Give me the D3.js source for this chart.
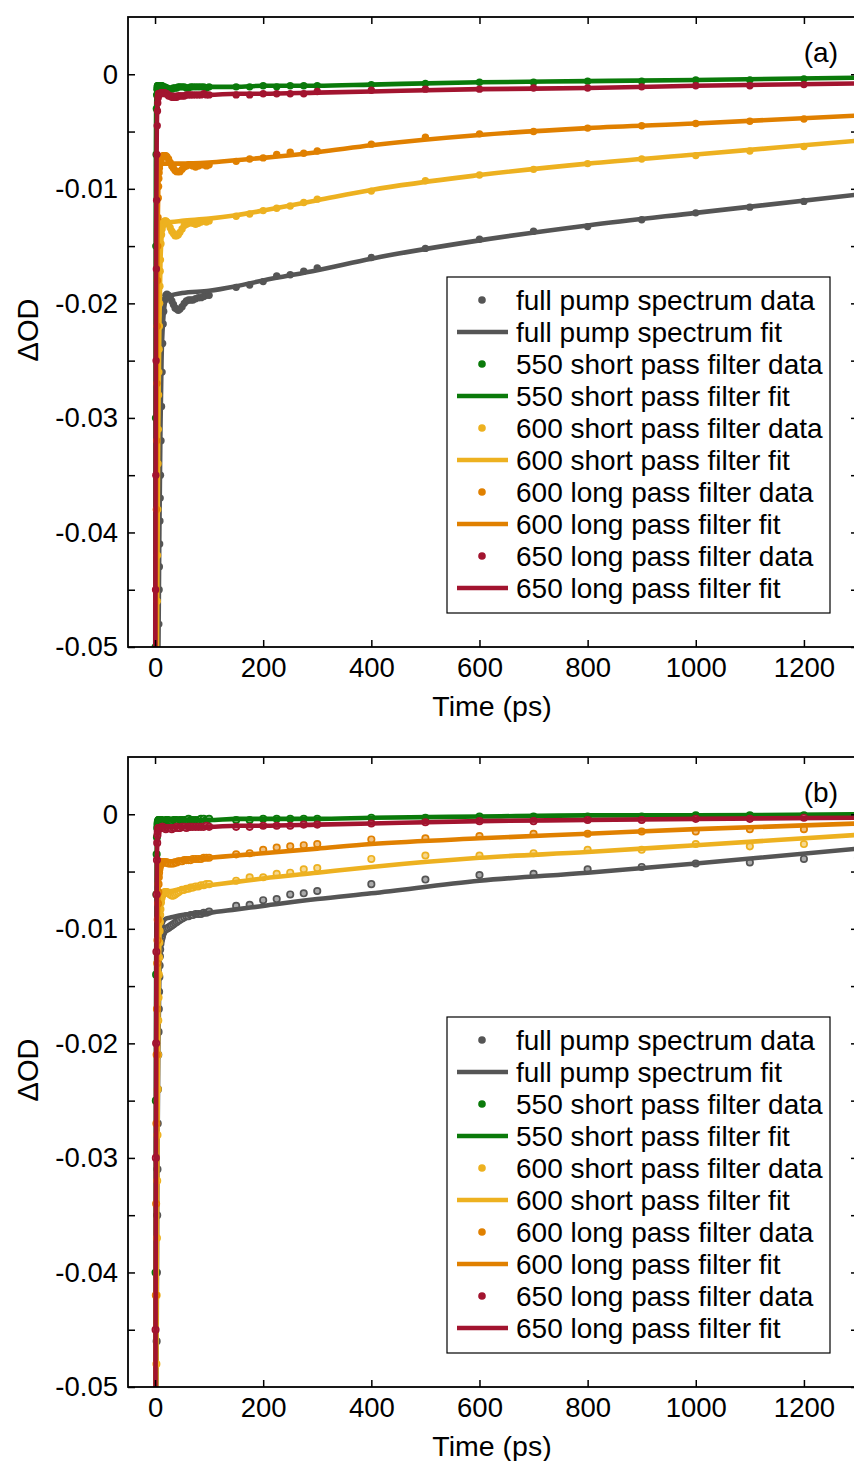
<!DOCTYPE html>
<html><head><meta charset="utf-8">
<script src="https://cdn.jsdelivr.net/npm/d3@7"></script>
<style>body{margin:0;background:#fff} text{font-family:"Liberation Sans",Arial,Helvetica,sans-serif}</style>
</head><body><svg id="chart" width="854" height="1461"></svg>
<script>
// ---------------- DATA ----------------
const times = [0,0.5,1,1.5,2,2.5,3,3.5,4,4.5,5,5.5,6,6.5,7,7.5,8,8.5,9,9.5,10, 11,12,13,14,15,16, 18,20,22, 25,28,31,34,37,40,43,46, 50,54,58,62,66,70, 75,80,85,90,95,100, 150,175,200,225,250,275,300, 400,500,600,700,800,900,1000,1100,1200,1300];
const tFit = [0,0.5,1,1.5,2,3,4,5,6,8,10,12,15,20,30,50,100,150,200,300,400,600,800,1000,1300];

const seriesNames = ["full pump spectrum","550 short pass filter","600 short pass filter","600 long pass filter","650 long pass filter"];
const seriesColors = ["#555555","#0a7a0a","#EDB120","#E08000","#A2142F"];
const xTicks = [0,200,400,600,800,1000,1200];
const yTicks = [0,-0.01,-0.02,-0.03,-0.04,-0.05];
const yMinorTicks = [-0.005,-0.015,-0.025,-0.035,-0.045];
const panelLabels = ["(a)","(b)"];

// panel (a) data
const aGray = [-0.120,-0.110,-0.100,-0.095,-0.090,-0.085,-0.080,-0.075,-0.070,-0.066,-0.062,-0.058,-0.054,-0.051,-0.048,-0.045,-0.043,-0.041,-0.039,-0.037,-0.035,
 -0.032,-0.029,-0.026,-0.0235,-0.0218,-0.0207, -0.0197,-0.0193,-0.0192,
 -0.0193,-0.0195,-0.0198,-0.0201,-0.0204,-0.0205,-0.0206,-0.0205,
 -0.0203,-0.0200,-0.0198,-0.0197,-0.0197,-0.0197, -0.0196,-0.0195,-0.0195,-0.0194,-0.0193,-0.0193,
 -0.0186,-0.0184,-0.0181,-0.0176,-0.0175,-0.0172,-0.0169,
 -0.0160,-0.0152,-0.0144,-0.0137,-0.0133,-0.0127,-0.0121,-0.0116,-0.0111,-0.0105];
const aGreen = [-0.080,-0.050,-0.030,-0.015,-0.007,-0.003,-0.0018,-0.0013,-0.0011,-0.0010,-0.0010,-0.0010,-0.0010,-0.0010,-0.0010,-0.0010,-0.0010,-0.0010,-0.0010,-0.0010,-0.0010,
 -0.0010,-0.0010,-0.0010,-0.0011,-0.0011,-0.0011, -0.0011,-0.0012,-0.0012,
 -0.0013,-0.0013,-0.0013,-0.0012,-0.0012,-0.0012,-0.0011,-0.0011,
 -0.0011,-0.0011,-0.0012,-0.0012,-0.0011,-0.0011, -0.0011,-0.0011,-0.0011,-0.0011,-0.0012,-0.0011,
 -0.0011,-0.0011,-0.0010,-0.0011,-0.0010,-0.0010,-0.0010,
 -0.0009,-0.0008,-0.0007,-0.0007,-0.0006,-0.0006,-0.0005,-0.0005,-0.0004,-0.0003];
const aYellow = [-0.090,-0.085,-0.080,-0.075,-0.068,-0.062,-0.056,-0.051,-0.046,-0.042,-0.038,-0.034,-0.031,-0.028,-0.026,-0.024,-0.022,-0.020,-0.0185,-0.0172,-0.0162,
 -0.0148,-0.0140,-0.0135,-0.0132,-0.0130,-0.0129, -0.0128,-0.0128,-0.0129,
 -0.0131,-0.0134,-0.0137,-0.0139,-0.0141,-0.0141,-0.0140,-0.0138,
 -0.0135,-0.0132,-0.0131,-0.0130,-0.0129,-0.0130, -0.0131,-0.0130,-0.0129,-0.0128,-0.0129,-0.0128,
 -0.0124,-0.0122,-0.0119,-0.0117,-0.0115,-0.0112,-0.0109,
 -0.0102,-0.0093,-0.0088,-0.0083,-0.0078,-0.0074,-0.0071,-0.0067,-0.0063,-0.0058];
const aOrange = [-0.080,-0.070,-0.060,-0.052,-0.045,-0.038,-0.032,-0.027,-0.022,-0.018,-0.015,-0.0125,-0.0108,-0.0098,-0.0091,-0.0086,-0.0082,-0.0079,-0.0077,-0.0076,-0.0075,
 -0.0074,-0.0073,-0.0072,-0.0072,-0.0071,-0.0071, -0.0071,-0.0071,-0.0072,
 -0.0074,-0.0077,-0.0080,-0.0082,-0.0084,-0.0085,-0.0085,-0.0085,
 -0.0083,-0.0081,-0.0080,-0.0079,-0.0079,-0.0080, -0.0081,-0.0080,-0.0079,-0.0079,-0.0080,-0.0079,
 -0.0076,-0.0074,-0.0073,-0.0070,-0.0068,-0.0069,-0.0067,
 -0.0061,-0.0055,-0.0052,-0.0050,-0.0047,-0.0045,-0.0043,-0.0041,-0.0039,-0.0036];
const aRed = [-0.080,-0.060,-0.045,-0.035,-0.025,-0.017,-0.011,-0.007,-0.0045,-0.0032,-0.0025,-0.0021,-0.0019,-0.0017,-0.0017,-0.0017,-0.0017,-0.0017,-0.0017,-0.0017,-0.0017,
 -0.0016,-0.0016,-0.0016,-0.0016,-0.0016,-0.0016, -0.0016,-0.0017,-0.0017,
 -0.0019,-0.0019,-0.0020,-0.0020,-0.0020,-0.0020,-0.0019,-0.0019,
 -0.0019,-0.0019,-0.0018,-0.0018,-0.0018,-0.0018, -0.0018,-0.0018,-0.0018,-0.0017,-0.0018,-0.0018,
 -0.0018,-0.0018,-0.0017,-0.0017,-0.0017,-0.0017,-0.0015,
 -0.0014,-0.0013,-0.0013,-0.0012,-0.0012,-0.0011,-0.0010,-0.0010,-0.0009,-0.0008];

// panel (a) fits
const aGrayFit = [-0.120,-0.110,-0.100,-0.095,-0.090,-0.080,-0.070,-0.061,-0.052,-0.040,-0.031,-0.025,-0.0215,-0.0197,-0.0193,-0.0191,-0.0189,-0.0185,-0.0180,-0.0171,-0.0161,-0.0145,-0.0132,-0.0121,-0.0105];
const aGreenFit = [-0.080,-0.045,-0.020,-0.008,-0.003,-0.0014,-0.0011,-0.0011,-0.0011,-0.0011,-0.0011,-0.0011,-0.0011,-0.0011,-0.0012,-0.0011,-0.0011,-0.0011,-0.0010,-0.0010,-0.0009,-0.0007,-0.0006,-0.0005,-0.0003];
const aYellowFit = [-0.090,-0.085,-0.080,-0.075,-0.068,-0.056,-0.046,-0.038,-0.031,-0.022,-0.0165,-0.0143,-0.0133,-0.0130,-0.0129,-0.0128,-0.0126,-0.0123,-0.0119,-0.0110,-0.0101,-0.0088,-0.0078,-0.0070,-0.0058];
const aOrangeFit = [-0.080,-0.070,-0.060,-0.051,-0.043,-0.029,-0.019,-0.013,-0.0100,-0.0083,-0.0079,-0.0078,-0.0078,-0.0078,-0.0078,-0.0078,-0.0077,-0.0075,-0.0073,-0.0068,-0.0062,-0.0053,-0.0047,-0.0043,-0.0036];
const aRedFit = [-0.070,-0.050,-0.035,-0.022,-0.014,-0.006,-0.003,-0.0022,-0.0019,-0.0018,-0.0018,-0.0018,-0.0018,-0.0018,-0.0018,-0.0018,-0.0018,-0.0017,-0.0017,-0.0016,-0.0015,-0.0013,-0.0012,-0.0010,-0.0008];

// panel (b) data
const bGray = [-0.120,-0.100,-0.085,-0.072,-0.062,-0.053,-0.046,-0.040,-0.035,-0.031,-0.027,-0.024,-0.021,-0.019,-0.017,-0.0155,-0.0142,-0.0132,-0.0124,-0.0118,-0.0113,
 -0.0110,-0.0108,-0.0106,-0.0104,-0.0103,-0.0102, -0.0101,-0.0100,-0.0100,
 -0.0099,-0.0098,-0.0097,-0.0096,-0.0095,-0.0094,-0.0093,-0.0092,
 -0.0091,-0.0090,-0.0089,-0.0089,-0.0088,-0.0088, -0.0087,-0.0087,-0.0087,-0.0086,-0.0086,-0.0085,
 -0.0080,-0.0079,-0.0075,-0.0074,-0.0070,-0.0069,-0.0067,
 -0.0061,-0.0057,-0.0053,-0.0052,-0.0048,-0.0046,-0.0043,-0.0042,-0.0039,-0.0038];
const bGreen = [-0.080,-0.060,-0.040,-0.025,-0.014,-0.007,-0.0035,-0.0020,-0.0012,-0.0009,-0.0007,-0.0006,-0.0006,-0.0005,-0.0005,-0.0005,-0.0005,-0.0005,-0.0005,-0.0005,-0.0005,
 -0.0005,-0.0005,-0.0006,-0.0006,-0.0006,-0.0006, -0.0006,-0.0005,-0.0005,
 -0.0005,-0.0006,-0.0006,-0.0005,-0.0005,-0.0005,-0.0006,-0.0005,
 -0.0005,-0.0005,-0.0005,-0.0004,-0.0005,-0.0005, -0.0005,-0.0005,-0.0004,-0.0004,-0.0005,-0.0004,
 -0.0005,-0.0005,-0.0004,-0.0004,-0.0004,-0.0004,-0.0004,
 -0.0003,-0.0003,-0.0002,-0.0002,-0.0002,-0.0002,-0.0001,-0.0001,-0.0001,0.0000];
const bYellow = [-0.090,-0.080,-0.070,-0.062,-0.055,-0.048,-0.042,-0.037,-0.032,-0.028,-0.024,-0.021,-0.018,-0.016,-0.014,-0.0125,-0.0112,-0.0102,-0.0094,-0.0088,-0.0083,
 -0.0077,-0.0073,-0.0071,-0.0070,-0.0069,-0.0069, -0.0068,-0.0068,-0.0068,
 -0.0069,-0.0070,-0.0071,-0.0071,-0.0070,-0.0069,-0.0068,-0.0067,
 -0.0066,-0.0066,-0.0065,-0.0065,-0.0064,-0.0064, -0.0063,-0.0063,-0.0062,-0.0062,-0.0061,-0.0061,
 -0.0058,-0.0055,-0.0055,-0.0052,-0.0051,-0.0048,-0.0047,
 -0.0039,-0.0036,-0.0036,-0.0034,-0.0031,-0.0031,-0.0026,-0.0028,-0.0026,-0.0024];
const bOrange = [-0.080,-0.065,-0.052,-0.042,-0.034,-0.027,-0.021,-0.017,-0.013,-0.011,-0.0092,-0.0078,-0.0068,-0.0061,-0.0055,-0.0051,-0.0048,-0.0046,-0.0045,-0.0044,-0.0043,
 -0.0042,-0.0042,-0.0042,-0.0042,-0.0042,-0.0042, -0.0042,-0.0042,-0.0042,
 -0.0043,-0.0043,-0.0043,-0.0043,-0.0042,-0.0042,-0.0041,-0.0041,
 -0.0041,-0.0040,-0.0040,-0.0040,-0.0040,-0.0039, -0.0039,-0.0039,-0.0039,-0.0038,-0.0038,-0.0038,
 -0.0035,-0.0034,-0.0031,-0.0029,-0.0028,-0.0027,-0.0026,
 -0.0022,-0.0021,-0.0019,-0.0017,-0.0017,-0.0015,-0.0015,-0.0013,-0.0013,-0.0011];
const bRed = [-0.080,-0.060,-0.045,-0.030,-0.020,-0.012,-0.007,-0.004,-0.0025,-0.0018,-0.0015,-0.0013,-0.0012,-0.0012,-0.0012,-0.0012,-0.0012,-0.0012,-0.0012,-0.0012,-0.0012,
 -0.0012,-0.0012,-0.0011,-0.0011,-0.0012,-0.0012, -0.0012,-0.0013,-0.0012,
 -0.0012,-0.0012,-0.0013,-0.0012,-0.0012,-0.0011,-0.0012,-0.0012,
 -0.0011,-0.0011,-0.0012,-0.0011,-0.0011,-0.0011, -0.0011,-0.0011,-0.0011,-0.0011,-0.0010,-0.0011,
 -0.0011,-0.0011,-0.0010,-0.0010,-0.0010,-0.0009,-0.0009,
 -0.0008,-0.0007,-0.0006,-0.0006,-0.0005,-0.0005,-0.0004,-0.0004,-0.0003,-0.0003];

// panel (b) fits
const bGrayFit = [-0.120,-0.100,-0.085,-0.072,-0.062,-0.046,-0.035,-0.027,-0.021,-0.0142,-0.0113,-0.0100,-0.0094,-0.0091,-0.0090,-0.0088,-0.0086,-0.0083,-0.0080,-0.0074,-0.0069,-0.0058,-0.0051,-0.0043,-0.0030];
const bGreenFit = [-0.080,-0.060,-0.040,-0.025,-0.014,-0.0035,-0.0012,-0.0007,-0.0006,-0.0005,-0.0005,-0.0005,-0.0005,-0.0005,-0.0005,-0.0005,-0.0005,-0.0004,-0.0004,-0.0004,-0.0003,-0.0002,-0.0001,-0.0001,0.0000];
const bYellowFit = [-0.090,-0.080,-0.070,-0.062,-0.055,-0.042,-0.032,-0.024,-0.018,-0.0112,-0.0085,-0.0075,-0.0070,-0.0068,-0.0067,-0.0065,-0.0062,-0.0059,-0.0056,-0.0051,-0.0046,-0.0038,-0.0033,-0.0027,-0.0018];
const bOrangeFit = [-0.080,-0.065,-0.052,-0.042,-0.034,-0.021,-0.013,-0.0092,-0.0068,-0.0048,-0.0043,-0.0042,-0.0042,-0.0041,-0.0041,-0.0040,-0.0038,-0.0036,-0.0034,-0.0030,-0.0026,-0.0021,-0.0017,-0.0013,-0.0008];
const bRedFit = [-0.080,-0.060,-0.045,-0.030,-0.020,-0.007,-0.0025,-0.0015,-0.0012,-0.0012,-0.0011,-0.0011,-0.0011,-0.0011,-0.0011,-0.0011,-0.0011,-0.0010,-0.0010,-0.0009,-0.0008,-0.0006,-0.0005,-0.0004,-0.0003];

// ---------------- DRAW ----------------
const panels = [
  {label: panelLabels[0], top: 17, ring: false,
   data: [aGray, aGreen, aYellow, aOrange, aRed], fit: [aGrayFit, aGreenFit, aYellowFit, aOrangeFit, aRedFit]},
  {label: panelLabels[1], top: 757, ring: true,
   data: [bGray, bGreen, bYellow, bOrange, bRed], fit: [bGrayFit, bGreenFit, bYellowFit, bOrangeFit, bRedFit]}
];

const FONT = '"Liberation Sans", Arial, Helvetica, sans-serif';
const svg = d3.select("#chart");
svg.append("rect").attr("width", 854).attr("height", 1461).attr("fill", "#fff");

const left = 128, right = 858, plotH = 630;
const x = d3.scaleLinear().domain([-50, 1300]).range([left, right]);
const fmt = v => Math.abs(v) < 1e-9 ? "0" : v.toFixed(2);
const allY = yTicks.concat(yMinorTicks);

panels.forEach((p, pi) => {
  const g = svg.append("g").attr("transform", `translate(0,${p.top})`);
  const y = d3.scaleLinear().domain([-0.05, 0.005]).range([plotH, 0]);
  const clipId = "clip" + pi;
  g.append("clipPath").attr("id", clipId).append("rect")
    .attr("x", left).attr("y", 0).attr("width", right - left).attr("height", plotH);
  const plot = g.append("g").attr("clip-path", `url(#${clipId})`);
  const line = d3.line().x(d => x(d[0])).y(d => y(d[1])).curve(d3.curveMonotoneX);

  seriesNames.forEach((name, si) => {
    const col = seriesColors[si];
    const pts = times.map((t, i) => [t, p.data[si][i]]);
    const dots = plot.append("g").selectAll("circle").data(pts).join("circle")
      .attr("cx", d => x(d[0])).attr("cy", d => y(d[1]));
    if (p.ring) {
      dots.attr("r", 3.2).attr("fill", d3.interpolateRgb(col, "#fff")(0.5))
        .attr("stroke", col).attr("stroke-width", 1.7);
    } else {
      dots.attr("r", 3.7).attr("fill", col);
    }
    plot.append("path").datum(tFit.map((t, i) => [t, p.fit[si][i]]))
      .attr("d", line).attr("fill", "none").attr("stroke", col)
      .attr("stroke-width", 4.6).attr("stroke-linejoin", "round");
  });

  // axes
  const styleAxis = a => {
    a.select(".domain").remove();
    a.selectAll("line").attr("stroke", "#000").attr("stroke-width", 1.5);
    a.attr("font-family", FONT).attr("font-size", 27.5);
    a.selectAll("text").attr("fill", "#000");
  };
  g.append("g").attr("transform", `translate(${left},0)`)
    .call(d3.axisLeft(y).tickValues(allY).tickSizeInner(-7).tickSizeOuter(0).tickPadding(10)
      .tickFormat(v => yTicks.some(t => Math.abs(t - v) < 1e-9) ? fmt(v) : ""))
    .call(styleAxis);
  g.append("g").attr("transform", `translate(${right},0)`)
    .call(d3.axisRight(y).tickValues(allY).tickSizeInner(-7).tickSizeOuter(0).tickFormat(""))
    .call(styleAxis);
  g.append("g").attr("transform", `translate(0,${plotH})`)
    .call(d3.axisBottom(x).tickValues(xTicks).tickSizeInner(-7).tickSizeOuter(0).tickPadding(10)
      .tickFormat(d3.format("d")))
    .call(styleAxis);
  g.append("g").attr("transform", `translate(0,0)`)
    .call(d3.axisTop(x).tickValues(xTicks).tickSizeInner(-7).tickSizeOuter(0).tickFormat(""))
    .call(styleAxis);

  g.append("rect").attr("x", left).attr("y", 0).attr("width", right - left).attr("height", plotH)
    .attr("fill", "none").attr("stroke", "#000").attr("stroke-width", 1.8);

  // axis labels
  g.append("text").attr("transform", `translate(38,${313}) rotate(-90)`)
    .attr("text-anchor", "middle").attr("font-size", 29).attr("font-family", FONT).text("ΔOD");
  g.append("text").attr("x", 492).attr("y", 699)
    .attr("text-anchor", "middle").attr("font-size", 28.5).attr("font-family", FONT).text("Time (ps)");
  g.append("text").attr("x", 838).attr("y", 45)
    .attr("text-anchor", "end").attr("font-size", 28).attr("font-family", FONT).text(p.label);

  // legend
  const lg = g.append("g");
  lg.append("rect").attr("x", 447).attr("y", 260).attr("width", 383).attr("height", 336)
    .attr("fill", "#fff").attr("stroke", "#000").attr("stroke-width", 1.2);
  const entries = [];
  seriesNames.forEach((n, si) => {
    entries.push({text: n + " data", col: seriesColors[si], type: "dot"});
    entries.push({text: n + " fit", col: seriesColors[si], type: "line"});
  });
  entries.forEach((e, i) => {
    const cy = 283 + 32 * i;
    if (e.type === "dot") {
      lg.append("circle").attr("cx", 482).attr("cy", cy).attr("r", 3.8).attr("fill", e.col);
    } else {
      lg.append("line").attr("x1", 457).attr("x2", 508).attr("y1", cy).attr("y2", cy)
        .attr("stroke", e.col).attr("stroke-width", 4.6);
    }
    lg.append("text").attr("x", 516).attr("y", cy).attr("dy", "0.36em")
      .attr("font-size", 28).attr("font-family", FONT).text(e.text);
  });
});
</script>
</body></html>
